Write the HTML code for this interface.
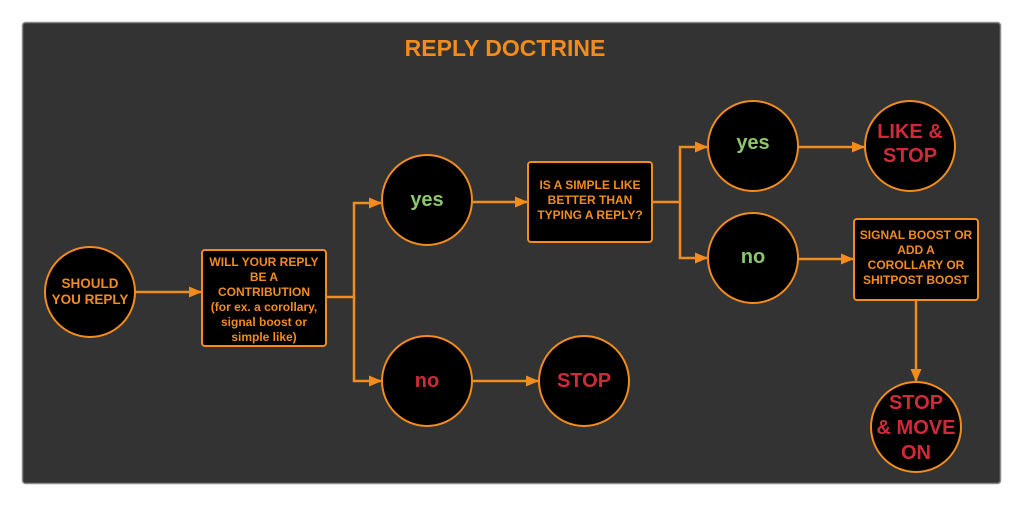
<!DOCTYPE html>
<html><head><style>
html,body{margin:0;padding:0;background:#fff;}
svg{display:block;}
text{font-family:"Liberation Sans",sans-serif;font-weight:bold;text-anchor:middle;}
</style></head><body>
<svg width="1023" height="506" viewBox="0 0 1023 506" xmlns="http://www.w3.org/2000/svg">
<defs>
<marker id="a" markerWidth="13" markerHeight="12" refX="12" refY="6" orient="auto" markerUnits="userSpaceOnUse">
<path d="M0,0.5 L13,6 L0,11.5 z" fill="#f28c1e"/></marker>
</defs>
<rect x="22.5" y="22.5" width="978" height="461" rx="3" fill="#333333" stroke="#8a8a8a" stroke-width="1.5"/>
<text x="505" y="56" font-size="23" fill="#f28c1e">REPLY DOCTRINE</text>
<g stroke="#f28c1e" stroke-width="2.5" fill="none">
<line x1="135" y1="292" x2="201" y2="292" marker-end="url(#a)"/>
<path d="M326,297 H354 V203 H381" marker-end="url(#a)"/>
<path d="M354,297 V381 H381" marker-end="url(#a)"/>
<line x1="472" y1="202" x2="527" y2="202" marker-end="url(#a)"/>
<line x1="472" y1="381" x2="538" y2="381" marker-end="url(#a)"/>
<path d="M652,202 H680 V147 H707" marker-end="url(#a)"/>
<path d="M680,202 V258 H707" marker-end="url(#a)"/>
<line x1="798" y1="147" x2="864" y2="147" marker-end="url(#a)"/>
<line x1="798" y1="259" x2="853" y2="259" marker-end="url(#a)"/>
<line x1="916" y1="300" x2="916" y2="381" marker-end="url(#a)"/>
</g>
<g fill="#000" stroke="#f28c1e" stroke-width="2">
<circle cx="90" cy="292" r="45"/>
<rect x="202" y="250" width="124" height="96" rx="3"/>
<circle cx="427" cy="200" r="45"/>
<circle cx="427" cy="381" r="45"/>
<rect x="528" y="162" width="124" height="80" rx="3"/>
<circle cx="584" cy="381" r="45"/>
<circle cx="753" cy="146" r="45"/>
<circle cx="910" cy="146" r="45"/>
<circle cx="753" cy="258" r="45"/>
<rect x="854" y="219" width="124" height="81" rx="3"/>
<circle cx="916" cy="427" r="45"/>
</g>
<g fill="#f28c1e" font-size="13.5">
<text x="90" y="288">SHOULD</text><text x="90" y="304">YOU REPLY</text>
</g>
<g fill="#f28c1e" font-size="12">
<text x="264" y="266">WILL YOUR REPLY</text>
<text x="264" y="281">BE A</text>
<text x="264" y="296">CONTRIBUTION</text>
<text x="264" y="311">(for ex. a corollary,</text>
<text x="264" y="326">signal boost or</text>
<text x="264" y="341">simple like)</text>
<text x="590" y="189">IS A SIMPLE LIKE</text>
<text x="590" y="204">BETTER THAN</text>
<text x="590" y="219">TYPING A REPLY?</text>
<text x="916" y="239">SIGNAL BOOST OR</text>
<text x="916" y="254">ADD A</text>
<text x="916" y="269">COROLLARY OR</text>
<text x="916" y="284">SHITPOST BOOST</text>
</g>
<g fill="#8dc66b" font-size="20">
<text x="427" y="206">yes</text>
<text x="753" y="149">yes</text>
<text x="753" y="263">no</text>
</g>
<g fill="#d02a3a" font-size="20">
<text x="427" y="387">no</text>
<text x="584" y="387">STOP</text>
<text x="910" y="138">LIKE &amp;</text>
<text x="910" y="162">STOP</text>
<text x="916" y="409">STOP</text>
<text x="916" y="434">&amp; MOVE</text>
<text x="916" y="459">ON</text>
</g>
</svg>
</body></html>
